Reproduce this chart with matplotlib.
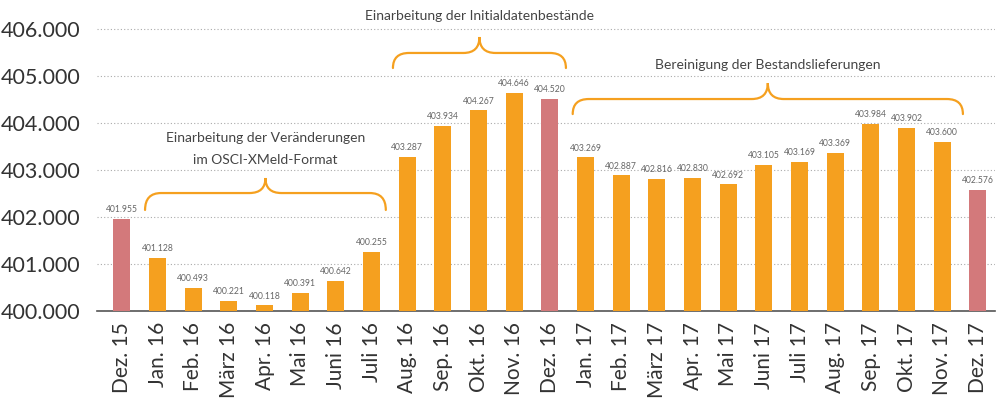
import matplotlib.pyplot as plt
from matplotlib.path import Path
from matplotlib.patches import PathPatch

plt.rcParams['font.family'] = ['Lato', 'DejaVu Sans']

months = ['Dez. 15', 'Jan. 16', 'Feb. 16', 'März 16', 'Apr. 16', 'Mai 16', 'Juni 16',
          'Juli 16', 'Aug. 16', 'Sep. 16', 'Okt. 16', 'Nov. 16', 'Dez. 16',
          'Jan. 17', 'Feb. 17', 'März 17', 'Apr. 17', 'Mai 17', 'Juni 17',
          'Juli 17', 'Aug. 17', 'Sep. 17', 'Okt. 17', 'Nov. 17', 'Dez. 17']
# bar heights (thousands)
values = [401.955, 401.128, 400.493, 400.221, 400.118, 400.391, 400.642,
          401.255, 403.287, 403.934, 404.267, 404.646, 404.520,
          403.269, 402.887, 402.816, 402.830, 402.692, 403.105,
          403.169, 403.369, 403.984, 403.902, 403.600, 402.576]
# printed labels (the Juli 16 label reads 400.255 in the original)
labels = ['401.955', '401.128', '400.493', '400.221', '400.118', '400.391', '400.642',
          '400.255', '403.287', '403.934', '404.267', '404.646', '404.520',
          '403.269', '402.887', '402.816', '402.830', '402.692', '403.105',
          '403.169', '403.369', '403.984', '403.902', '403.600', '402.576']
year_end = ['Dez. 15', 'Dez. 16', 'Dez. 17']

orange = '#F5A01F'
rose = '#D3797B'

fig = plt.figure(figsize=(9.99, 4.01), dpi=100)
ax = fig.add_axes([0.097, 0.2244, 0.899, 0.7756])

x = list(range(len(months)))
colors = [rose if m in year_end else orange for m in months]
ax.bar(x, [v - 400 for v in values], bottom=400, width=0.48, color=colors, zorder=3)

for xi, v, lab in zip(x, values, labels):
    ax.text(xi, v + 0.1, lab, ha='center', va='bottom', fontsize=6.2, color='#666666')

ax.set_xlim(-0.7, 24.48)
ax.set_ylim(400, 406.617)
ax.set_yticks([400, 401, 402, 403, 404, 405, 406])
ax.set_yticklabels(['400.000', '401.000', '402.000', '403.000', '404.000', '405.000', '406.000'],
                   fontsize=15.5, color='#333333')
ax.set_xticks(x)
ax.set_xticklabels(months, rotation=90, fontsize=15, color='#333333')
ax.tick_params(axis='both', length=0)
ax.tick_params(axis='y', pad=12)
ax.tick_params(axis='x', pad=8)

for s in ['top', 'right', 'left']:
    ax.spines[s].set_visible(False)
ax.spines['bottom'].set_color('#555555')
ax.spines['bottom'].set_linewidth(1.2)
ax.grid(axis='y', linestyle=(0, (1, 2)), color='#aaaaaa', linewidth=0.8, zorder=0)


def brace(x0, x1, y0, ym, yt, r=0.45):
    xm = (x0 + x1) / 2
    verts = [(x0, y0), (x0, ym), (x0 + r, ym), (xm - r, ym), (xm, ym), (xm, yt),
             (xm, ym), (xm + r, ym), (x1 - r, ym), (x1, ym), (x1, y0)]
    codes = [Path.MOVETO, Path.CURVE3, Path.CURVE3, Path.LINETO, Path.CURVE3, Path.CURVE3,
             Path.CURVE3, Path.CURVE3, Path.LINETO, Path.CURVE3, Path.CURVE3]
    ax.add_patch(PathPatch(Path(verts, codes), fill=False, edgecolor=orange, lw=1.6,
                           capstyle='round', clip_on=False))


brace(0.65, 7.40, 402.15, 402.51, 402.83)
brace(7.60, 12.45, 405.17, 405.49, 405.83)
brace(12.64, 23.58, 404.19, 404.51, 404.85)

ax.text(4.03, 403.68, 'Einarbeitung der Veränderungen', ha='center', va='center',
        fontsize=10, color='#444444')
ax.text(4.03, 403.21, 'im OSCI-XMeld-Format', ha='center', va='center',
        fontsize=10, color='#444444')
ax.text(10.03, 406.28, 'Einarbeitung der Initialdatenbestände', ha='center', va='center',
        fontsize=10, color='#444444')
ax.text(18.11, 405.23, 'Bereinigung der Bestandslieferungen', ha='center', va='center',
        fontsize=10, color='#444444')

fig.savefig('out.png', dpi=100)
